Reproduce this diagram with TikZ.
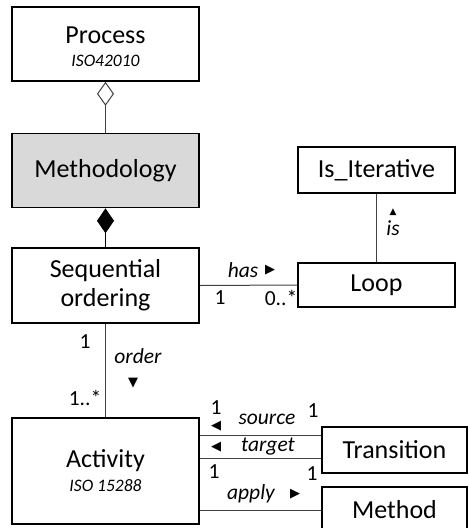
\documentclass[tikz,border=0pt]{standalone}
\usepackage{fontspec}
\setmainfont{Carlito}
\newfontfamily\symfont{DejaVu Sans}
\usetikzlibrary{arrows.meta, positioning}

\tikzset{
	cls/.style={draw, line width=1.6pt, minimum width=187pt, align=center,
		inner sep=0pt, font=\fontsize{26}{20}\selectfont},
	link/.style={draw=black!75, line width=1pt},
	lbl/.style={inner sep=0pt, font=\fontsize{21.5}{24}\selectfont\itshape},
	mult/.style={inner sep=0pt, font=\fontsize{21.5}{24}\selectfont},
	tri/.style={inner sep=0pt, font=\symfont\fontsize{13}{14}\selectfont}
}
\newcommand{\isotag}[1]{{\fontsize{17.5}{18}\selectfont\itshape #1}}

\begin{document}
\begin{tikzpicture}[x=1pt, y=-1pt]
	\useasboundingbox (0,0) rectangle (469,528);
	\clip (0,0) rectangle (469,528);
	
	% classes
	\node[cls, minimum height=74pt] (proc) at (105.5,44) {\rule{0pt}{23pt}Process\\[3pt]\isotag{ISO42010}};
	\node[cls, minimum height=74pt, fill=black!15] (meth) at (105.5,170.5) {Methodology};
	\node[cls, minimum height=75pt] (seq) at (105.5,285.5) {Sequential\\[6pt]ordering};
	\node[cls, minimum height=106pt] (act) at (105.5,471) {Activity\\[4pt]\isotag{ISO 15288}};
	\node[cls, minimum width=157pt, minimum height=46pt] (iter) at (376.5,170) {Is\_Iterative};
	\node[cls, minimum width=157pt, minimum height=44pt] (loop) at (376.5,285) {Loop};
	\node[cls, minimum width=145pt, minimum height=46pt] (trans) at (394.5,450) {Transition};
	\node[cls, minimum width=145pt, minimum height=46pt] (tech) at (394.5,510) {Method};
	
	% aggregation and composition
	\draw[link, -{Diamond[open, length=24pt, width=17pt, line width=1pt]}] (meth.north) -- (proc.south);
	\draw[link, -{Diamond[length=25pt, width=17pt]}, black] (seq.north) -- (meth.south);
	
	% associations
	\draw[link] (seq.east) -- (loop.west);
	\draw[link] (loop.north) -- (iter.south);
	\draw[link] (seq.south) -- (act.north);
	\draw[link] ([yshift=15pt]trans.west) -- ([yshift=15pt]trans.west -| act.east);
	\draw[link] ([yshift=-8pt]trans.west) -- ([yshift=-8pt]trans.west -| act.east);
	\draw[link] (tech.west) -- (tech.west -| act.east);
	
	% role names and multiplicities
	\node[lbl] (has) at (243,270) {has};
	\node[tri] (hasdir) at (270,270) {▶};
	\node[mult] (hasa) at (220,298) {1};
	\node[mult] (hasb) at (281,298) {0..*};
	
	\node[tri, font=\symfont\fontsize{9}{10}\selectfont] (isdir) at (393,212) {▲};
	\node[lbl] (is) at (393,228) {is};
	
	\node[mult] (orda) at (85,342) {1};
	\node[lbl] (order) at (138,356) {order};
	\node[tri] (orddir) at (133,383) {▼};
	\node[mult] (ordb) at (85,398) {1..*};
	
	\node[mult] (srca) at (216,408) {1};
	\node[tri] (srcdir) at (216,426) {◀};
	\node[lbl] (source) at (267,419) {source};
	\node[mult] (srcb) at (313,411) {1};
	
	\node[tri] (tgtdir) at (216,447) {◀};
	\node[lbl] (target) at (268,447) {target};
	\node[mult] (tgta) at (214,472) {1};
	\node[mult] (tgtb) at (312,474) {1};
	
	\node[lbl] (apply) at (251,494) {apply};
	\node[tri] (appdir) at (295,494) {▶};
\end{tikzpicture}
\end{document}
